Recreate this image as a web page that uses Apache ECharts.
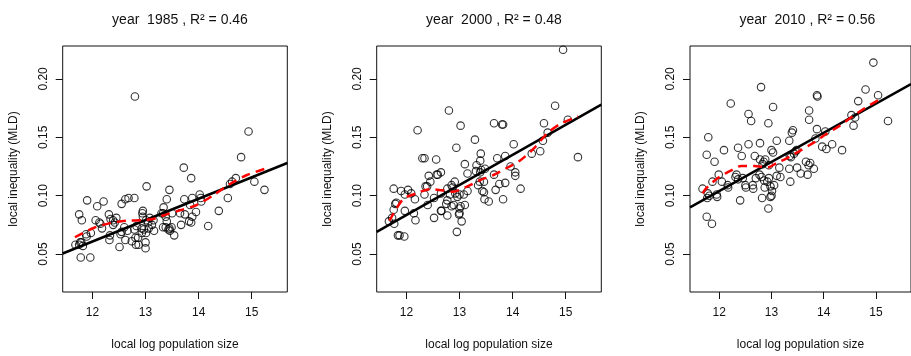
<!DOCTYPE html>
<html>
<head>
<meta charset="utf-8">
<script src="https://cdn.jsdelivr.net/npm/echarts@6/dist/echarts.min.js"></script>
<style>
  html, body { margin: 0; padding: 0; background: #fff; }
  #main { width: 911px; height: 356px; }
</style>
</head>
<body>
<div id="main"></div>
<script>
var years = ['1985', '2000', '2010'];
var r2 = ['0.46', '0.48', '0.56'];
var xTicks = [12, 13, 14, 15];
var yTicks = [0.05, 0.10, 0.15, 0.20];
var xRange = [11.44, 15.67];
var yRange = [0.0175, 0.2282];

var pts1985 = [
  [12.80,0.185],[14.94,0.155],[14.80,0.133],[13.72,0.124],[13.86,0.115],[13.02,0.108],[15.05,0.112],[15.24,0.105],
  [14.70,0.115],[14.63,0.112],[14.59,0.110],[14.55,0.098],[14.38,0.087],[14.18,0.074],
  [14.02,0.101],[14.04,0.098],[14.05,0.095],[13.88,0.098],[13.84,0.092],[13.95,0.086],[13.88,0.082],[13.82,0.078],[13.86,0.077],
  [13.73,0.097],[13.74,0.084],[13.67,0.075],[13.65,0.085],
  [13.45,0.105],[13.40,0.097],[13.34,0.090],[13.33,0.085],[13.38,0.082],[13.40,0.078],[13.33,0.073],[13.38,0.073],[13.49,0.073],[13.46,0.070],[13.54,0.066],[13.50,0.085],[13.43,0.071],
  [12.95,0.087],[12.94,0.085],[12.95,0.082],[13.01,0.079],[13.15,0.079],[13.12,0.075],[13.06,0.072],[13.16,0.070],[13.01,0.068],[13.00,0.060],[13.00,0.055],[12.93,0.068],[12.93,0.072],
  [12.82,0.058],[12.74,0.061],[12.81,0.064],[12.79,0.071],[12.83,0.074],[12.86,0.064],[12.87,0.058],[12.79,0.098],[12.68,0.098],[12.62,0.097],[12.55,0.093],
  [12.51,0.056],[12.32,0.062],[12.33,0.066],[12.53,0.067],[12.55,0.069],[12.60,0.073],[12.62,0.062],[12.66,0.070],[12.39,0.075],[12.42,0.077],[12.45,0.081],[12.39,0.079],[12.31,0.084],[12.34,0.080],
  [11.75,0.084],[11.80,0.079],[11.90,0.096],[12.09,0.091],[12.21,0.095],[12.06,0.079],[12.13,0.077],[12.15,0.076],[12.18,0.072],[11.97,0.068],[11.88,0.067],[11.89,0.065],[11.68,0.058],[11.77,0.060],[11.75,0.058],[11.82,0.057],[11.78,0.047],[11.96,0.047],[11.79,0.060],
  [13.05,0.077],[13.08,0.081],[12.97,0.071],[13.30,0.085],[13.45,0.072]
];
var pts2000 = [
  [14.95,0.225],[14.80,0.177],[15.04,0.165],[15.23,0.133],[12.80,0.173],[13.02,0.160],[12.21,0.156],[12.94,0.141],[13.29,0.148],
  [13.65,0.162],[13.80,0.161],[13.82,0.161],[14.59,0.162],[14.66,0.154],[14.57,0.147],[14.52,0.138],[14.36,0.136],[14.02,0.144],
  [13.96,0.125],[14.05,0.120],[14.05,0.117],[14.15,0.106],[13.82,0.097],[13.86,0.111],[13.86,0.134],[13.71,0.132],[13.75,0.110],[13.65,0.118],[13.68,0.105],
  [13.40,0.136],[13.39,0.130],[13.32,0.126],[13.41,0.122],[13.48,0.123],[13.46,0.112],[13.39,0.120],[13.31,0.121],[13.35,0.109],[13.38,0.112],[13.43,0.104],[13.46,0.103],[13.47,0.097],[13.55,0.095],
  [13.15,0.119],[13.10,0.127],[13.15,0.104],[13.08,0.101],[13.00,0.101],[12.96,0.099],[12.91,0.112],[12.85,0.109],[12.87,0.107],[12.77,0.106],[12.82,0.101],[12.77,0.096],[12.75,0.093],[12.85,0.091],[12.77,0.083],[12.89,0.092],[13.02,0.091],[13.00,0.089],[13.10,0.092],[13.00,0.085],[12.99,0.084],[13.04,0.078],[12.95,0.069],[12.92,0.102],
  [12.65,0.120],[12.57,0.118],[12.59,0.118],[12.56,0.131],[12.52,0.098],[12.65,0.102],[12.65,0.087],[12.66,0.087],[12.52,0.081],[12.45,0.112],[12.42,0.117],[12.40,0.092],[12.36,0.108],[12.39,0.108],[12.34,0.101],[12.30,0.132],[12.34,0.132],
  [12.16,0.097],[12.17,0.079],[12.14,0.085],[12.09,0.102],[12.03,0.105],[11.97,0.101],[11.97,0.087],[11.90,0.104],[11.76,0.106],[11.81,0.094],[11.79,0.093],[11.76,0.088],[11.73,0.081],[11.67,0.078],[11.77,0.076],[11.84,0.066],[11.87,0.066],[11.96,0.065]
];
var pts2010 = [
  [14.95,0.214],[12.80,0.193],[14.80,0.191],[15.04,0.186],[13.87,0.186],[13.88,0.185],[14.66,0.181],[12.22,0.179],[13.03,0.176],[13.72,0.173],[12.56,0.170],[13.72,0.165],[12.61,0.164],[12.94,0.162],[15.23,0.164],
  [14.53,0.169],[14.60,0.167],[14.57,0.160],[13.87,0.157],[13.41,0.156],[13.39,0.154],[14.03,0.155],[13.84,0.149],[13.34,0.147],[13.10,0.147],
  [11.79,0.150],[12.36,0.141],[12.56,0.144],[12.78,0.145],[12.09,0.139],[11.76,0.135],[12.43,0.134],[11.91,0.129],[12.68,0.134],
  [12.78,0.131],[12.88,0.131],[12.83,0.127],[12.85,0.129],[13.00,0.139],[13.03,0.137],[12.95,0.126],[13.15,0.124],[13.10,0.117],[13.17,0.116],
  [13.35,0.134],[13.37,0.133],[13.43,0.136],[13.46,0.138],[13.48,0.139],[13.34,0.123],[13.36,0.112],[13.49,0.124],[13.56,0.119],[13.66,0.129],[13.71,0.126],[13.74,0.128],[13.69,0.118],[13.81,0.123],
  [13.97,0.142],[14.05,0.140],[14.16,0.144],[14.35,0.139],
  [12.33,0.118],[12.31,0.116],[12.36,0.114],[12.45,0.115],[12.50,0.109],[12.51,0.107],[12.64,0.109],[12.65,0.106],[12.70,0.115],[12.77,0.118],[12.81,0.116],[12.86,0.113],[12.92,0.112],[12.95,0.115],[12.87,0.107],[12.98,0.108],[13.01,0.104],[13.00,0.100],[12.98,0.099],[13.05,0.109],
  [12.82,0.098],[12.94,0.089],[12.40,0.096],[12.17,0.107],[12.16,0.109],[12.05,0.112],[11.99,0.118],[11.87,0.112],[11.95,0.101],[11.96,0.099],[11.68,0.106],[11.78,0.102],[11.77,0.098],[11.81,0.100],[11.76,0.082],[11.86,0.076]
];

// straight fit, read at the two plot edges
var fit1985 = [[11.44,0.0505],[15.67,0.128]];
var fit2000 = [[11.44,0.069],[15.67,0.178]];
var fit2010 = [[11.44,0.090],[15.67,0.1955]];

// smooth (dashed red) curve
var lo1985 = [[11.67,0.0644],[12.02,0.0723],[12.33,0.0765],[12.64,0.0785],[12.96,0.0790],[13.18,0.0805],[13.33,0.0830],[13.65,0.0875],[13.96,0.092],[14.28,0.1005],[14.59,0.110],[14.90,0.1175],[15.25,0.123]];
var lo2000 = [[11.68,0.0785],[11.75,0.0842],[11.94,0.0971],[12.19,0.102],[12.44,0.1056],[12.66,0.1047],[12.88,0.1034],[13.13,0.1076],[13.38,0.1132],[13.63,0.1175],[13.89,0.1237],[14.14,0.1302],[14.39,0.140],[14.64,0.1528],[14.89,0.1613],[15.23,0.1678]];
var lo2010 = [[11.68,0.102],[11.76,0.1068],[11.98,0.1153],[12.23,0.1217],[12.42,0.1254],[12.67,0.1254],[12.92,0.1242],[13.11,0.1282],[13.30,0.1322],[13.55,0.1386],[13.80,0.1452],[14.05,0.1528],[14.30,0.1598],[14.55,0.1678],[14.80,0.1754],[15.05,0.1819]];

var points = [pts1985, pts2000, pts2010];
var fits = [fit1985, fit2000, fit2010];
var smooths = [lo1985, lo2000, lo2010];

var myChart = echarts.init(document.getElementById('main'));

var font = 'Liberation Sans, Arial, sans-serif';
var panelLeft = [62.7, 376.7, 690];
var boxW = 224.6, boxTop = 46, boxH = 248.3;

var option = {
  animation: false,
  backgroundColor: '#fff',
  title: [],
  grid: [],
  xAxis: [],
  yAxis: [],
  series: []
};

for (var i = 0; i < 3; i++) {
  option.title.push({
    text: 'year  ' + years[i] + ' , R\u00B2 = ' + r2[i],
    left: panelLeft[i] + boxW / 2,
    top: 8,
    textAlign: 'center',
    textStyle: { fontFamily: font, fontSize: 14, fontWeight: 'normal', color: '#111' }
  });
  option.grid.push({
    left: panelLeft[i], top: boxTop, width: boxW, height: boxH,
    show: true, borderColor: '#111', borderWidth: 1, backgroundColor: 'transparent'
  });
  option.xAxis.push({
    type: 'value', gridIndex: i, min: xRange[0], max: xRange[1],
    name: 'local log population size', nameLocation: 'middle', nameGap: 47,
    nameTextStyle: { fontFamily: font, fontSize: 12, color: '#111' },
    axisLine: { show: false, onZero: false },
    axisTick: { show: true, length: 7, customValues: xTicks, lineStyle: { color: '#111', width: 1 } },
    axisLabel: { customValues: xTicks, margin: 15, fontFamily: font, fontSize: 12, color: '#111' },
    splitLine: { show: false }
  });
  option.yAxis.push({
    type: 'value', gridIndex: i, min: yRange[0], max: yRange[1],
    name: 'local inequality (MLD)', nameLocation: 'middle', nameGap: 43, nameRotate: 90,
    nameTextStyle: { fontFamily: font, fontSize: 12, color: '#111' },
    axisLine: { show: false, onZero: false },
    axisTick: { show: true, length: 7, customValues: yTicks, lineStyle: { color: '#111', width: 1 } },
    axisLabel: {
      customValues: yTicks, rotate: 90, margin: 13, fontFamily: font, fontSize: 12, color: '#111',
      formatter: function (v) { return v.toFixed(2); }
    },
    splitLine: { show: false }
  });
  option.series.push({
    type: 'scatter', xAxisIndex: i, yAxisIndex: i, data: points[i],
    symbol: 'circle', symbolSize: 7.5,
    itemStyle: { color: 'rgba(0,0,0,0)', borderColor: '#000', borderWidth: 1.1 }
  });
  option.series.push({
    type: 'line', xAxisIndex: i, yAxisIndex: i, data: fits[i],
    symbol: 'none', lineStyle: { color: '#000', width: 2.5 }
  });
  option.series.push({
    type: 'line', xAxisIndex: i, yAxisIndex: i, data: smooths[i],
    symbol: 'none', smooth: 0.3,
    lineStyle: { color: '#ff0000', width: 2.5, type: [9, 6] }
  });
}

myChart.setOption(option);
</script>
</body>
</html>
